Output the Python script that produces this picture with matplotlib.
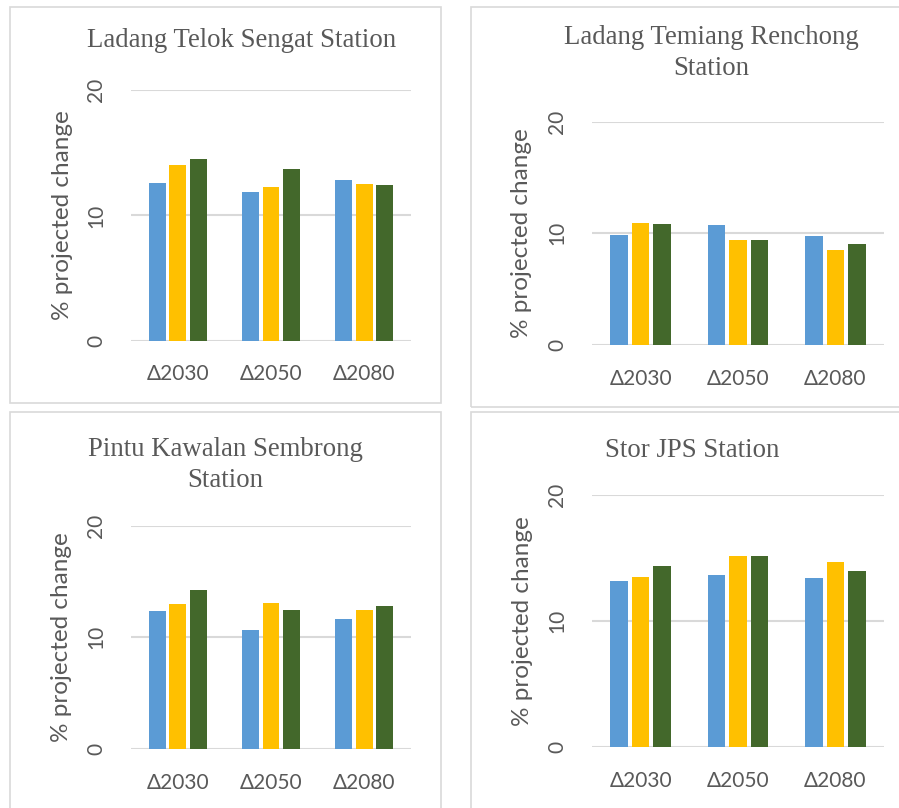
import matplotlib.pyplot as plt
from matplotlib.patches import Rectangle

# datos por estacion: valores de cambio proyectado (%)
periodos = ['Δ2030', 'Δ2050', 'Δ2080']
colores = ['#5B9BD5', '#FFC000', '#43682B']

telok_sengat = [[12.6, 11.9, 12.8],
                [14.0, 12.3, 12.5],
                [14.5, 13.7, 12.4]]
temiang_renchong = [[9.85, 10.75, 9.75],
                    [10.9, 9.4, 8.5],
                    [10.85, 9.4, 9.05]]
kawalan_sembrong = [[12.35, 10.65, 11.65],
                    [13.0, 13.05, 12.45],
                    [14.25, 12.45, 12.8]]
stor_jps = [[13.15, 13.65, 13.4],
            [13.45, 15.15, 14.65],
            [14.35, 15.15, 13.95]]

titulos = ['Ladang Telok Sengat Station',
           'Ladang Temiang Renchong\nStation',
           'Pintu Kawalan Sembrong\nStation',
           'Stor JPS Station']

W, H = 899, 808
fig = plt.figure(figsize=(W / 100, H / 100), dpi=100)
fig.patch.set_facecolor('white')


def px_rect(x0, y0, x1, y1):
    # pixeles (origen arriba-izquierda) -> coordenadas de figura
    return [x0 / W, 1 - y1 / H, (x1 - x0) / W, (y1 - y0) / H]


# marcos de cada grafico
marcos = [(10, 7, 440.5, 403), (471, 7, 920, 406.7),
          (10, 411.7, 440.5, 830), (471, 411.7, 920, 830)]
for x0, y0, x1, y1 in marcos:
    fig.patches.append(Rectangle((x0 / W, 1 - y1 / H), (x1 - x0) / W, (y1 - y0) / H,
                                 transform=fig.transFigure, fill=False,
                                 edgecolor='#D9D9D9', linewidth=1.2))

ejes = [(131, 90.3, 411, 340.7), (592, 121.7, 884, 345),
        (131, 525.7, 411, 749), (592, 494.7, 884, 747)]
# x del borde derecho de la etiqueta del eje y (pixeles)
borde_ylabel = [73, 532, 72, 533]
# centro x y linea base de la ultima linea del titulo (pixeles)
posiciones_titulo = [(242, 47), (711, 75), (225, 487), (692, 457)]
datos = [telok_sengat, temiang_renchong, kawalan_sembrong, stor_jps]

x = list(range(len(periodos)))
ancho = 0.18
desplaz = 0.22

for serie, caja, titulo, (tx, ty), yl in zip(datos, ejes, titulos,
                                             posiciones_titulo, borde_ylabel):
    ax = fig.add_axes(px_rect(*caja))
    for i, valores in enumerate(serie):
        ax.bar([xi + (i - 1) * desplaz for xi in x], valores, width=ancho,
               color=colores[i], zorder=3)
    ax.set_xlim(-0.5, 2.5)
    ax.set_ylim(0, 20)
    ax.set_yticks([0, 10, 20])
    ax.set_xticks(x)
    ax.set_xticklabels(periodos)
    for s in ax.spines.values():
        s.set_visible(False)
    ax.yaxis.grid(True, color='#D9D9D9', linewidth=1.5, zorder=0)
    ax.set_axisbelow(True)
    ax.tick_params(axis='y', length=0, pad=18, labelsize=15, labelcolor='#595959',
                   labelrotation=90)
    ax.tick_params(axis='x', length=0, pad=17, labelsize=15, labelcolor='#595959')
    for lbl in ax.get_yticklabels():
        lbl.set_verticalalignment('center')
    for lbl in ax.get_xticklabels() + ax.get_yticklabels():
        lbl.set_family(['Lato', 'DejaVu Sans'])
    ax.set_ylabel('% projected change', fontsize=17.5, color='#595959',
                  family=['Lato', 'DejaVu Sans'])
    ancho_ax = caja[2] - caja[0]
    ax.yaxis.set_label_coords((yl - caja[0]) / ancho_ax, 0.5)

    fig.text(tx / W, 1 - ty / H, titulo, ha='center', va='baseline',
             fontsize=19.3, color='#595959', family='Liberation Serif',
             linespacing=1.3)

plt.savefig('out.png', dpi=100, facecolor='white')
